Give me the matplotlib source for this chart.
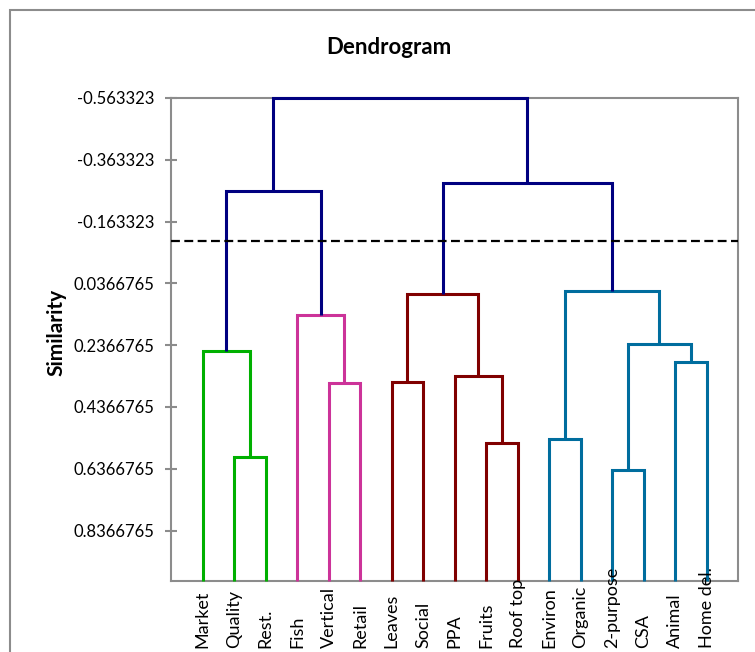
import matplotlib.pyplot as plt
from matplotlib.patches import Rectangle
from matplotlib.transforms import blended_transform_factory

plt.rcParams['font.family'] = ['Lato', 'DejaVu Sans']

# leaves, left to right
labels = ['Market', 'Quality', 'Rest.', 'Fish', 'Vertical', 'Retail', 'Leaves', 'Social',
          'PPA', 'Fruits', 'Roof top', 'Environ', 'Organic', '2-purpose', 'CSA', 'Animal', 'Home del.']

# merges: node ids 0..16 are leaves, each merge makes a new node 17, 18, ...
merge_pairs = [(1, 2), (0, 17), (4, 5), (3, 19), (6, 7), (9, 10), (8, 22), (21, 23),
               (11, 12), (13, 14), (15, 16), (26, 27), (25, 28), (18, 20), (24, 29), (30, 31)]
merge_heights = [0.5995, 0.2552, 0.3576, 0.1396, 0.3566, 0.5542, 0.3349, 0.0725,
                 0.5391, 0.6393, 0.2908, 0.2313, 0.0618, -0.2621, -0.2890, -0.563323]
merge_groups = ['green', 'green', 'pink', 'pink', 'maroon', 'maroon', 'maroon', 'maroon',
                'blue', 'blue', 'blue', 'blue', 'blue', 'navy', 'navy', 'navy']

cut_level = -0.1011
leaf_level = 1.0
ytick_labels = ['-0.563323', '-0.363323', '-0.163323', '0.0366765',
                '0.2366765', '0.4366765', '0.6366765', '0.8366765']

group_colors = {'green': '#00B000', 'pink': '#CC3399', 'maroon': '#800000',
                'blue': '#006D9E', 'navy': '#000080'}

W, H = 755, 652
fig = plt.figure(figsize=(W / 100, H / 100), dpi=100)
ax = fig.add_axes([171 / W, 1 - 581 / H, (738 - 171) / W, (581 - 98) / H])

# outer chart frame (runs off the right and bottom edge)
fig.add_artist(Rectangle((10 / W, -0.5), 2, 1.5 - 10 / H, transform=fig.transFigure,
                         fill=False, ec='#8c8c8c', lw=1.5))

xpos = {i: i + 1 for i in range(len(labels))}
ypos = {i: leaf_level for i in range(len(labels))}
for k, ((a, b), h, g) in enumerate(zip(merge_pairs, merge_heights, merge_groups)):
    node = len(labels) + k
    c = group_colors[g]
    ax.plot([xpos[a], xpos[a], xpos[b], xpos[b]], [ypos[a], h, h, ypos[b]],
            color=c, lw=2.2, solid_joinstyle='miter', solid_capstyle='butt', clip_on=False, zorder=3)
    xpos[node] = (xpos[a] + xpos[b]) / 2
    ypos[node] = h

ax.axhline(cut_level, color='black', lw=1.6, linestyle=(0, (4, 2)), zorder=4)

ax.set_xlim(0, len(labels) + 1)
ax.set_ylim(leaf_level, -0.563323)
ax.set_yticks([float(t) for t in ytick_labels])
ax.set_yticklabels(ytick_labels, fontsize=12)
ax.tick_params(axis='y', direction='inout', length=8, width=1.5, color='#8c8c8c', pad=8)
ax.set_xticks([])
for s in ax.spines.values():
    s.set_color('#8c8c8c')
    s.set_linewidth(1.5)

trans = blended_transform_factory(ax.transData, fig.transFigure)
for i, lab in enumerate(labels):
    ax.text(xpos[i], 4 / H, lab, transform=trans, rotation=90, ha='center', va='bottom',
            fontsize=13, clip_on=False)

fig.text(389 / W, 1 - 47 / H, 'Dendrogram', ha='center', va='center', fontsize=16, fontweight='bold')
fig.text(56 / W, 1 - 332 / H, 'Similarity', ha='center', va='center', rotation=90,
         fontsize=15, fontweight='bold')

fig.savefig('out.png', dpi=100)
